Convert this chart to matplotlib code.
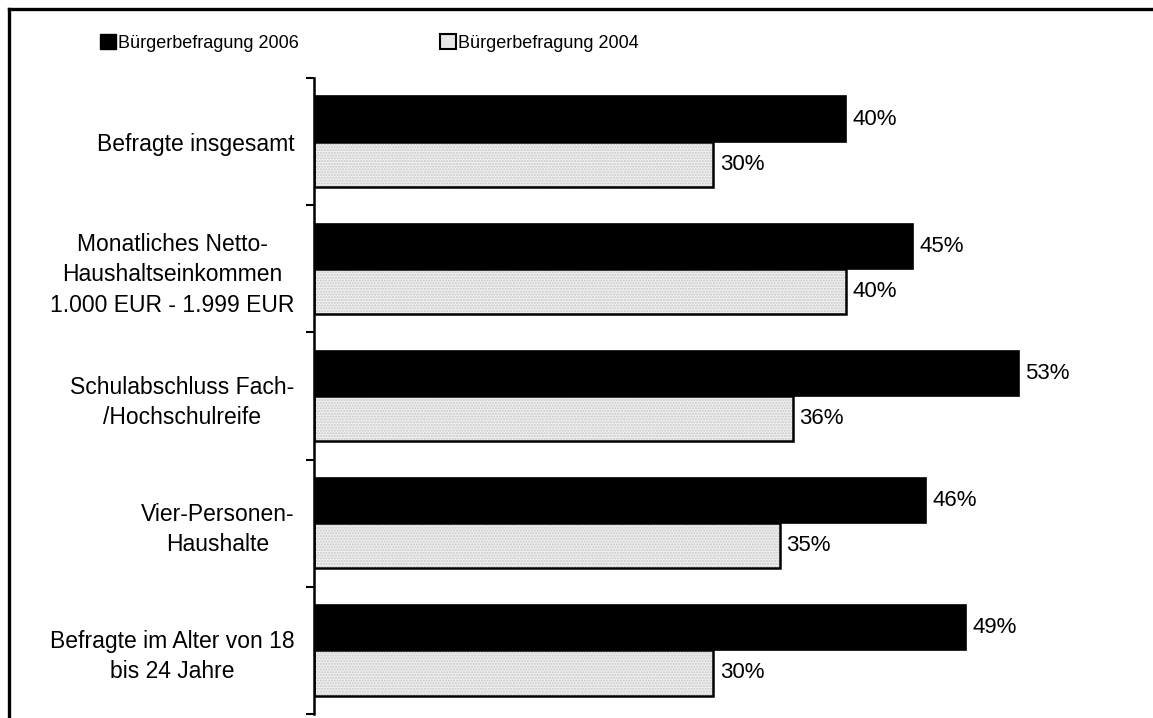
import matplotlib
matplotlib.use("Agg")
from matplotlib import pyplot as plt
from matplotlib.patches import Patch
from matplotlib.lines import Line2D
import numpy as np

plt.rcParams['font.family'] = ['Liberation Sans', 'DejaVu Sans']

# Data
categories = [
    "Befragte insgesamt",
    "Monatliches Netto-\nHaushaltseinkommen\n1.000 EUR - 1.999 EUR",
    "Schulabschluss Fach-\n/Hochschulreife",
    "Vier-Personen-\nHaushalte",
    "Befragte im Alter von 18\nbis 24 Jahre",
]
werte_2006 = [40, 45, 53, 46, 49]
werte_2004 = [30, 40, 36, 35, 30]
serien = ["Bürgerbefragung 2006", "Bürgerbefragung 2004"]

W, H = 1153, 718
fig = plt.figure(figsize=(W / 100, H / 100), dpi=100)
ax = fig.add_axes([314 / W, 1 - 714 / H, (W - 314) / W, (714 - 78) / H])

y = np.arange(len(categories))
h = 0.355

ax.barh(y - h / 2, werte_2006, height=h, color="black", edgecolor="black", linewidth=1.2)
# dotted light grey fill, then black outline
ax.barh(y + h / 2, werte_2004, height=h, color="#efefef", edgecolor="#c8c8c8",
        hatch="......", linewidth=0)
ax.barh(y + h / 2, werte_2004, height=h, fill=False, edgecolor="black", linewidth=1.8)

fs = 16
for yi, v in zip(y, werte_2006):
    ax.text(v + 0.5, yi - h / 2, f"{v}%", va="center", ha="left", fontsize=fs)
for yi, v in zip(y, werte_2004):
    ax.text(v + 0.5, yi + h / 2, f"{v}%", va="center", ha="left", fontsize=fs)

ax.set_xlim(0, (W - 314) / 13.3)
ax.set_ylim(len(categories) - 0.5, -0.5)

ax.set_yticks(y)
ax.set_yticklabels(categories, fontsize=16.5, multialignment="center", linespacing=1.4)
ax.tick_params(axis="y", which="major", length=0, pad=14)
ax.set_yticks(np.arange(-0.5, len(categories)), minor=True)
ax.tick_params(axis="y", which="minor", length=6, width=1.5, direction="out")
ax.set_xticks([])

for s in ["top", "right", "bottom"]:
    ax.spines[s].set_visible(False)
ax.spines["left"].set_linewidth(1.8)

# legend
handles = [
    Patch(facecolor="black", edgecolor="black"),
    Patch(facecolor="#e8e8e8", edgecolor="black", linewidth=1.5),
]
fig.legend(handles, serien, loc="upper left", bbox_to_anchor=(93 / W, 1 - 27 / H),
           ncol=2, frameon=False, fontsize=13,
           handlelength=0.85, handleheight=0.85,
           handletextpad=0.12, columnspacing=7.85, borderaxespad=0)

# outer frame (left and top only)
fig.add_artist(Line2D([9 / W, 9 / W], [0, 1 - 9 / H], color="black", lw=2.4,
                      transform=fig.transFigure))
fig.add_artist(Line2D([9 / W, 1], [1 - 9 / H, 1 - 9 / H], color="black", lw=2.4,
                      transform=fig.transFigure))

fig.savefig("out.png", dpi=100)
